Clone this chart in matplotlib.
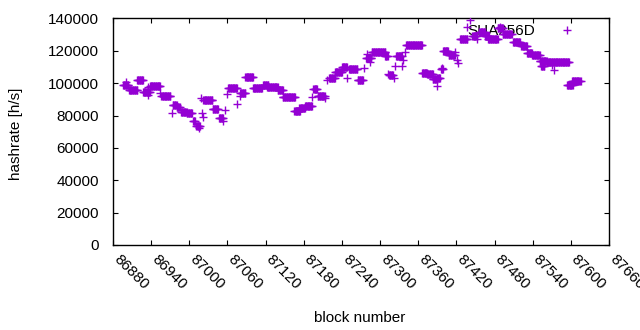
import numpy as np
import matplotlib
matplotlib.use("Agg")
import matplotlib.pyplot as plt

# Data: runs of consecutive blocks sharing one hashrate value (start == end for single blocks)
run_start = [86896, 86900, 86905, 86918, 86927, 86935, 86935, 86938, 86954, 86956,
             86973, 86974, 86980, 86987, 86996, 87006, 87011, 87015, 87018, 87020,
             87021, 87022, 87037, 87047, 87053, 87056, 87059, 87061, 87075, 87080,
             87080, 87088, 87100, 87116, 87122, 87139, 87147, 87165, 87173, 87182,
             87193, 87195, 87202, 87213, 87217, 87220, 87229, 87240, 87248, 87251,
             87265, 87275, 87278, 87279, 87284, 87287, 87308, 87312, 87314, 87322,
             87323, 87325, 87334, 87336, 87339, 87341, 87366, 87374, 87383, 87390,
             87390, 87396, 87397, 87399, 87408, 87418, 87421, 87422, 87426, 87437,
             87441, 87445, 87452, 87456, 87465, 87470, 87485, 87489, 87493, 87509,
             87522, 87531, 87539, 87551, 87553, 87562, 87573, 87571, 87573, 87594,
             87602, 87616]
run_end = [86904, 86900, 86918, 86927, 86938, 86935, 86935, 86954, 86954, 86970,
           86973, 86980, 86985, 86996, 87004, 87009, 87017, 87015, 87018, 87020,
           87021, 87036, 87045, 87053, 87053, 87056, 87059, 87075, 87075, 87080,
           87088, 87100, 87114, 87124, 87139, 87147, 87166, 87174, 87182, 87193,
           87193, 87201, 87213, 87213, 87217, 87229, 87240, 87248, 87248, 87264,
           87273, 87275, 87286, 87279, 87284, 87308, 87312, 87312, 87320, 87322,
           87323, 87334, 87334, 87336, 87339, 87366, 87374, 87383, 87390, 87390,
           87394, 87399, 87397, 87407, 87418, 87418, 87421, 87422, 87437, 87437,
           87441, 87452, 87452, 87465, 87471, 87485, 87493, 87489, 87507, 87520,
           87531, 87539, 87551, 87562, 87558, 87572, 87573, 87571, 87597, 87603,
           87614, 87616]
run_value = [98900, 100700, 95800, 102000, 94500, 92700, 97600, 98200, 93900, 92000,
             81500, 86500, 85300, 82200, 81500, 76600, 73500, 72300, 90800, 81500,
             79000, 89600, 84000, 78500, 76600, 83400, 93300, 97000, 87100, 92000,
             93900, 103800, 97000, 98800, 97600, 95800, 91400, 82800, 84600, 85900,
             91400, 96400, 92000, 90800, 101900, 103200, 106900, 110000, 103200, 108700,
             101900, 109300, 115500, 118000, 113100, 119200, 116800, 105600, 105000, 103200,
             110600, 116800, 110600, 114300, 119200, 123600, 106300, 105600, 102600, 98200,
             103200, 108700, 109300, 119800, 117400, 119200, 114300, 112400, 127300, 134700,
             139300, 129100, 127300, 131600, 129100, 127300, 134000, 134700, 130400, 125400,
             122900, 118600, 117400, 113700, 110600, 113100, 108100, 111200, 113100, 98800,
             101300, 101300]

x_ticks = list(range(86880, 87661, 60))
y_ticks = list(range(0, 140001, 20000))
series_name = "SHA256D"
color = "#9400D3"

blocks = []
values = []
for s, e, v in zip(run_start, run_end, run_value):
    for b in range(s, e + 1):
        blocks.append(b)
        values.append(v)

FS = 11
plt.rcParams['font.family'] = ['Liberation Sans', 'DejaVu Sans']
fig = plt.figure(figsize=(6.4, 3.3), dpi=100)
ax = fig.add_axes([113/640, 1-245/330, 496/640, (245-18.4)/330])

ax.plot(blocks, values, linestyle='none', marker='+', color=color,
        markersize=5.8, markeredgewidth=1.0, label=series_name, zorder=3)

ax.set_xlim(86880, 87660)
ax.set_ylim(0, 140000)
ax.set_xticks(x_ticks)
ax.set_yticks(y_ticks)
ax.set_xticklabels([str(t) for t in x_ticks], rotation=-45, ha='left', va='baseline',
                   rotation_mode='anchor')
ax.set_yticklabels([str(t) for t in y_ticks])
ax.tick_params(direction='in', length=3.5, width=0.8, top=True, right=True,
               labelsize=FS, colors='black')
ax.tick_params(axis='x', pad=11)
ax.tick_params(axis='y', pad=10)
for sp in ax.spines.values():
    sp.set_linewidth(1.0)

ax.set_xlabel("block number", fontsize=FS, va='baseline')
ax.xaxis.set_label_coords((359.2-113)/496, (245-321.7)/226.6)
ax.set_ylabel("hashrate [h/s]", fontsize=FS)
ax.yaxis.set_label_coords((23-113)/496, 0.492)

leg = ax.legend(loc='upper right', bbox_to_anchor=(0.971, 0.975), frameon=False,
                markerfirst=False, handlelength=3.6, handletextpad=0.3,
                borderaxespad=0, borderpad=0, fontsize=FS, numpoints=1)
leg.set_zorder(1)

fig.savefig("out.png", dpi=100)
